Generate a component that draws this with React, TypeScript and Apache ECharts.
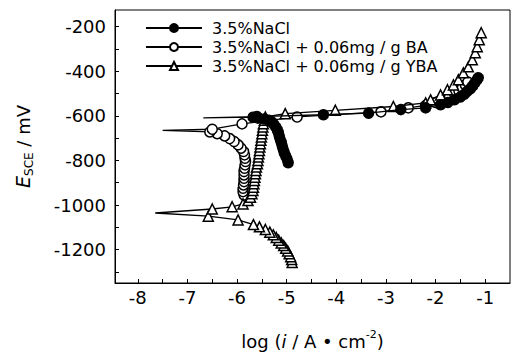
import React, { useEffect, useRef } from "react";
import * as echarts from "echarts";

// ---- data (log i, E in mV) ----
const seriesNames = [
  "3.5%NaCl",
  "3.5%NaCl + 0.06mg / g BA",
  "3.5%NaCl + 0.06mg / g YBA",
];

const naclCathodic: number[][] = [
  [-4.97, -810], [-4.99, -795], [-5.02, -780], [-5.05, -765], [-5.07, -750],
  [-5.09, -735], [-5.11, -720], [-5.13, -705], [-5.15, -690], [-5.17, -675],
  [-5.19, -662], [-5.22, -650], [-5.26, -638], [-5.3, -628], [-5.36, -620],
  [-5.45, -614], [-5.58, -610], [-5.68, -606],
];
const naclTip: number[] = [-6.68, -609];
const naclAnodic: number[][] = [
  [-5.6, -603], [-4.26, -595], [-3.35, -588], [-2.7, -572], [-2.2, -564],
  [-1.9, -550], [-1.75, -540], [-1.62, -528], [-1.5, -515], [-1.42, -503],
  [-1.36, -490], [-1.3, -478], [-1.25, -465], [-1.21, -452], [-1.17, -440],
  [-1.14, -429],
];

const baCathodic: number[][] = [
  [-5.86, -955], [-5.88, -940], [-5.88, -925], [-5.87, -910], [-5.86, -895],
  [-5.86, -880], [-5.86, -865], [-5.86, -850], [-5.85, -835], [-5.84, -820],
  [-5.83, -805], [-5.84, -790], [-5.85, -775], [-5.87, -760], [-5.92, -745],
  [-5.98, -730], [-6.06, -715], [-6.15, -702], [-6.25, -690], [-6.4, -680],
  [-6.55, -672],
];
const baTip: number[] = [-7.5, -665];
const baAnodic: number[][] = [
  [-6.5, -660], [-5.9, -636], [-4.79, -605], [-3.1, -582], [-2.55, -564],
  [-2.2, -553], [-2.0, -540], [-1.85, -527], [-1.72, -513], [-1.62, -500],
  [-1.53, -487], [-1.46, -474], [-1.4, -461], [-1.35, -448],
];

const ybaCathodic: number[][] = [
  [-4.89, -1258], [-4.9, -1245], [-4.92, -1232], [-4.95, -1219], [-4.98, -1206],
  [-5.02, -1194], [-5.06, -1182], [-5.11, -1170], [-5.16, -1158], [-5.21, -1146],
  [-5.27, -1134], [-5.34, -1122], [-5.43, -1110], [-5.55, -1098], [-5.67, -1088],
  [-5.98, -1067], [-6.58, -1050],
];
const ybaTip: number[] = [-7.65, -1036];
const ybaAnodic: number[][] = [
  [-6.5, -1018], [-6.1, -1008], [-5.88, -995], [-5.78, -980], [-5.73, -965],
  [-5.7, -950], [-5.68, -935], [-5.67, -920], [-5.66, -905], [-5.65, -890],
  [-5.64, -875], [-5.63, -860], [-5.62, -845], [-5.61, -830], [-5.59, -815],
  [-5.58, -800], [-5.57, -785], [-5.56, -770], [-5.55, -755], [-5.54, -740],
  [-5.53, -725], [-5.52, -710], [-5.51, -695], [-5.5, -680], [-5.49, -665],
  [-5.48, -650], [-5.47, -635], [-5.45, -620], [-5.43, -605], [-5.03, -590],
  [-4.02, -575], [-2.85, -558], [-2.2, -542], [-2.1, -528], [-1.9, -506],
  [-1.76, -483], [-1.64, -461], [-1.54, -438], [-1.44, -407], [-1.34, -380],
  [-1.26, -348], [-1.2, -317], [-1.16, -290], [-1.12, -258], [-1.08, -227],
];

const xTickValues = [-8, -7.5, -7, -6.5, -6, -5.5, -5, -4.5, -4, -3.5, -3, -2.5, -2, -1.5, -1];
const xLabelValues = [-8, -7, -6, -5, -4, -3, -2, -1];
const yTickValues = [-1300, -1200, -1100, -1000, -900, -800, -700, -600, -500, -400, -300, -200];
const yLabelValues = [-1200, -1000, -800, -600, -400, -200];

const FONT = "DejaVu Sans";

function build(cath: number[][], tip: number[], anod: number[][]) {
  return [
    ...cath.map((p) => ({ value: p })),
    { value: tip, symbol: "none" },
    ...anod.map((p) => ({ value: p })),
  ];
}

export default function App() {
  const ref = useRef<HTMLDivElement>(null);
  useEffect(() => {
    if (!ref.current) return;
    const chart = echarts.init(ref.current, undefined, { renderer: "svg" });
    const lineStyle = { color: "#000", width: 1.3 };
    const baseSeries = (name: string, data: any[], symbol: string, fill: string, z: number) => ({
      name,
      type: "line",
      data,
      symbol,
      symbolSize: 10,
      z,
      lineStyle,
      itemStyle: { color: fill, borderColor: "#000", borderWidth: 1.5 },
    });
    chart.setOption({
      animation: false,
      backgroundColor: "#fff",
      grid: {
        left: 115,
        right: 5,
        top: 10,
        bottom: 76,
        show: true,
        borderColor: "#000",
        borderWidth: 1,
      },
      legend: {
        orient: "vertical",
        left: 140,
        top: 15,
        itemWidth: 56,
        itemHeight: 10,
        itemGap: 3,
        data: seriesNames,
        textStyle: { fontFamily: FONT, fontSize: 16, color: "#000", padding: [0, 0, 0, 5] },
      },
      xAxis: {
        type: "value",
        min: -8.46,
        max: -0.5,
        name: "{n|log (}{i|i}{n| / A • cm}{p|-2}{n|)}",
        nameLocation: "middle",
        nameGap: 46,
        nameTextStyle: {
          rich: {
            n: { fontFamily: FONT, fontSize: 18, color: "#000", lineHeight: 24 },
            i: { fontFamily: FONT, fontSize: 18, color: "#000", fontStyle: "italic", lineHeight: 24 },
            p: { fontFamily: FONT, fontSize: 11, color: "#000", lineHeight: 12, verticalAlign: "top" },
          },
        },
        splitLine: { show: false },
        axisLine: { show: true, lineStyle: { color: "#000", width: 1 } },
        axisTick: { show: true, inside: true, length: 4, customValues: xTickValues, lineStyle: { color: "#000" } },
        axisLabel: {
          customValues: xLabelValues,
          fontFamily: FONT,
          fontSize: 18,
          color: "#000",
          margin: 5,
          formatter: (v: number) => String(v),
        },
      },
      yAxis: {
        type: "value",
        min: -1350,
        max: -125,
        name: "{i|E}{s|SCE}{n| / mV}",
        nameLocation: "middle",
        nameGap: 80,
        nameRotate: 90,
        nameTextStyle: {
          rich: {
            n: { fontFamily: FONT, fontSize: 18, color: "#000", lineHeight: 24 },
            i: { fontFamily: FONT, fontSize: 19, color: "#000", fontStyle: "italic", lineHeight: 24 },
            s: { fontFamily: FONT, fontSize: 12, color: "#000", lineHeight: 12, verticalAlign: "bottom" },
          },
        },
        splitLine: { show: false },
        axisLine: { show: true, lineStyle: { color: "#000", width: 1 } },
        axisTick: { show: true, inside: true, length: 4, customValues: yTickValues, lineStyle: { color: "#000" } },
        axisLabel: {
          customValues: yLabelValues,
          fontFamily: FONT,
          fontSize: 18,
          color: "#000",
          margin: 9,
          formatter: (v: number) => String(v),
        },
      },
      series: [
        baseSeries(seriesNames[0], build(naclCathodic, naclTip, naclAnodic), "circle", "#000", 4),
        baseSeries(seriesNames[1], build(baCathodic, baTip, baAnodic), "circle", "#fff", 2),
        baseSeries(seriesNames[2], build(ybaCathodic, ybaTip, ybaAnodic), "triangle", "#fff", 3),
      ],
    });
    return () => chart.dispose();
  }, []);
  return (
    <div
      ref={ref}
      style={{ position: "fixed", left: 0, top: 0, width: 515, height: 359, background: "#fff" }}
    />
  );
}
